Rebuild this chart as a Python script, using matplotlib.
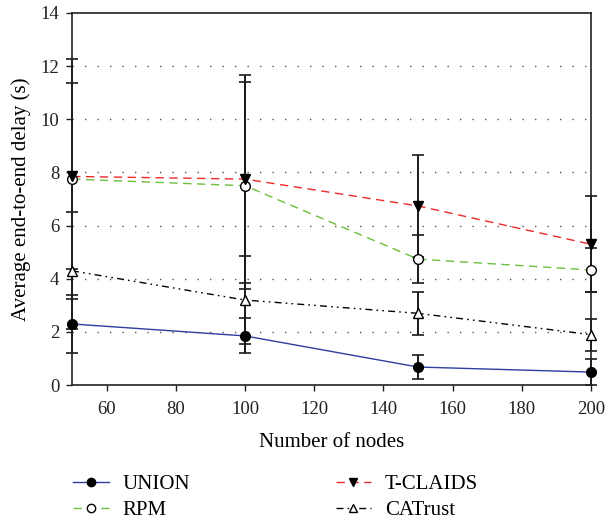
import numpy as np
import matplotlib.pyplot as plt
from matplotlib.lines import Line2D

# ---- data ----
nodes = [50, 100, 150, 200]

union = [2.3, 1.85, 0.68, 0.49]
union_err = [1.1, 0.66, 0.45, 0.5]

rpm = [7.75, 7.5, 4.74, 4.33]
rpm_err = [4.5, 3.9, 0.9, 0.83]

tclaids = [7.85, 7.75, 6.74, 5.3]
tclaids_err = [3.5, 3.9, 1.92, 1.8]

catrust = [4.3, 3.2, 2.7, 1.9]
catrust_err = [2.2, 1.66, 0.8, 0.6]

plt.rcParams['font.family'] = ['Liberation Serif', 'DejaVu Serif']

fig = plt.figure(figsize=(6.06, 5.19), dpi=100)
ax = fig.add_axes([0.119, 0.258, 0.856, 0.717])

# dotted horizontal grid
for yv in range(2, 14, 2):
    ax.axhline(yv, color='#555555', lw=1.0, ls=(0, (1, 8)), zorder=1)

series = [
    (union, union_err, '#2e3e9e', '-', 'o', 'black', 'UNION'),
    (rpm, rpm_err, '#6cbf3c', (0, (6, 4)), 'o', 'white', 'RPM'),
    (tclaids, tclaids_err, '#ee2a2a', (0, (6, 4)), 'v', 'black', 'T-CLAIDS'),
    (catrust, catrust_err, 'black', (0, (5, 3, 1.2, 3, 1.2, 3)), '^', 'white', 'CATrust'),
]

handles = []
for vals, err, col, ls, mk, mfc, lab in series:
    eb = ax.errorbar(nodes, vals, yerr=err, fmt='none', ecolor='#1a1a1a',
                     elinewidth=1.4, capsize=4.5, capthick=1.2, zorder=2)
    for part in eb.lines[1] + eb.lines[2]:
        part.set_clip_on(False)
    ax.plot(nodes, vals, color=col, ls=ls, lw=1.0, zorder=3)
    ax.plot(nodes, vals, ls='none', marker=mk, ms=7, mfc=mfc,
            mec='black', mew=1.0, zorder=4, clip_on=False)
    handles.append(Line2D([], [], color=col, ls=ls, lw=1.0, marker=mk,
                          ms=6, mfc=mfc, mec='black', mew=1.0, label=lab))

ax.set_xlim(50, 200)
ax.set_ylim(0, 14)
ax.set_xticks([60, 80, 100, 120, 140, 160, 180, 200])
ax.set_yticks([0, 2, 4, 6, 8, 10, 12, 14])
ax.tick_params(direction='out', length=4.3, width=1, labelsize=13.5,
               colors='#222222')
ax.tick_params(axis='x', pad=7)
ax.tick_params(axis='y', pad=5)
for s in ax.spines.values():
    s.set_linewidth(1.2)
    s.set_color('#222222')

ax.set_xlabel('Number of nodes', fontsize=15, labelpad=11)
ax.set_ylabel('Average end-to-end delay (s)', fontsize=15, labelpad=7)

fig.legend(handles=handles, ncol=2, loc='lower left',
           bbox_to_anchor=(0.09, -0.038), frameon=False, fontsize=15,
           handlelength=1.7, handletextpad=0.65, columnspacing=7.0,
           labelspacing=0.3)

fig.savefig('out.png', dpi=100)
